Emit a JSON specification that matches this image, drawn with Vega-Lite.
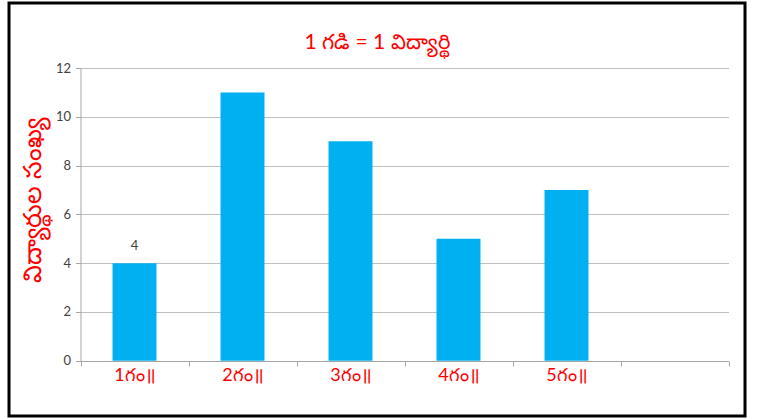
{
  "$schema": "https://vega.github.io/schema/vega-lite/v6.json",
  "width": 736,
  "height": 413,
  "autosize": {"type": "none"},
  "padding": {"left": 9, "top": 3, "right": 14, "bottom": 2},
  "background": "white",
  "config": {"view": {"stroke": "black", "strokeWidth": 3}, "font": "Lato"},
  "title": {"text": "1 గడి = 1 విద్యార్థి", "color": "#FF0000", "fontSize": 21, "fontWeight": "normal", "anchor": "middle", "frame": "group", "baseline": "middle", "offset": -61},
  "data": {"values": [
    {"period": "1గం॥", "students": 4, "label": "4"},
    {"period": "2గం॥", "students": 11, "label": null},
    {"period": "3గం॥", "students": 9, "label": null},
    {"period": "4గం॥", "students": 5, "label": null},
    {"period": "5గం॥", "students": 7, "label": null}
  ]},
  "layer": [
    {
      "mark": {"type": "bar", "color": "#00B0F0", "width": {"band": 0.407}},
      "encoding": {
        "x": {"field": "period", "type": "nominal", "sort": null,
          "scale": {"domain": ["1గం॥", "2గం॥", "3గం॥", "4గం॥", "5గం॥", " "], "range": [71.5, 719.5], "paddingInner": 0, "paddingOuter": 0},
          "axis": {"title": null, "orient": "bottom", "offset": -55, "domainColor": "#A6A6A6", "tickColor": "#A6A6A6", "tickSize": 5, "tickBand": "extent", "labelColor": "#FF0000", "labelFontSize": 18, "labelPadding": 0, "labelAngle": 0, "grid": false}},
        "y": {"field": "students", "type": "quantitative",
          "scale": {"domain": [0, 12], "range": [357.7, 65], "nice": false},
          "axis": {"title": "విద్యార్థుల సంఖ్య", "offset": -71.5, "values": [0, 2, 4, 6, 8, 10, 12], "grid": true, "gridColor": "#BFBFBF", "domainColor": "#A6A6A6", "tickColor": "#A6A6A6", "tickSize": 5, "labelColor": "#404040", "labelFontSize": 13, "labelPadding": 5, "titleColor": "#FF0000", "titleFontSize": 25, "titleFontWeight": "normal", "titlePadding": 10, "titleY": 197}}
      }
    },
    {
      "transform": [{"filter": "isValid(datum.label)"}],
      "mark": {"type": "text", "dy": -13, "baseline": "alphabetic", "fontSize": 13, "color": "#404040"},
      "encoding": {
        "x": {"field": "period", "type": "nominal", "sort": null},
        "y": {"field": "students", "type": "quantitative"},
        "text": {"field": "label"}
      }
    }
  ]
}
